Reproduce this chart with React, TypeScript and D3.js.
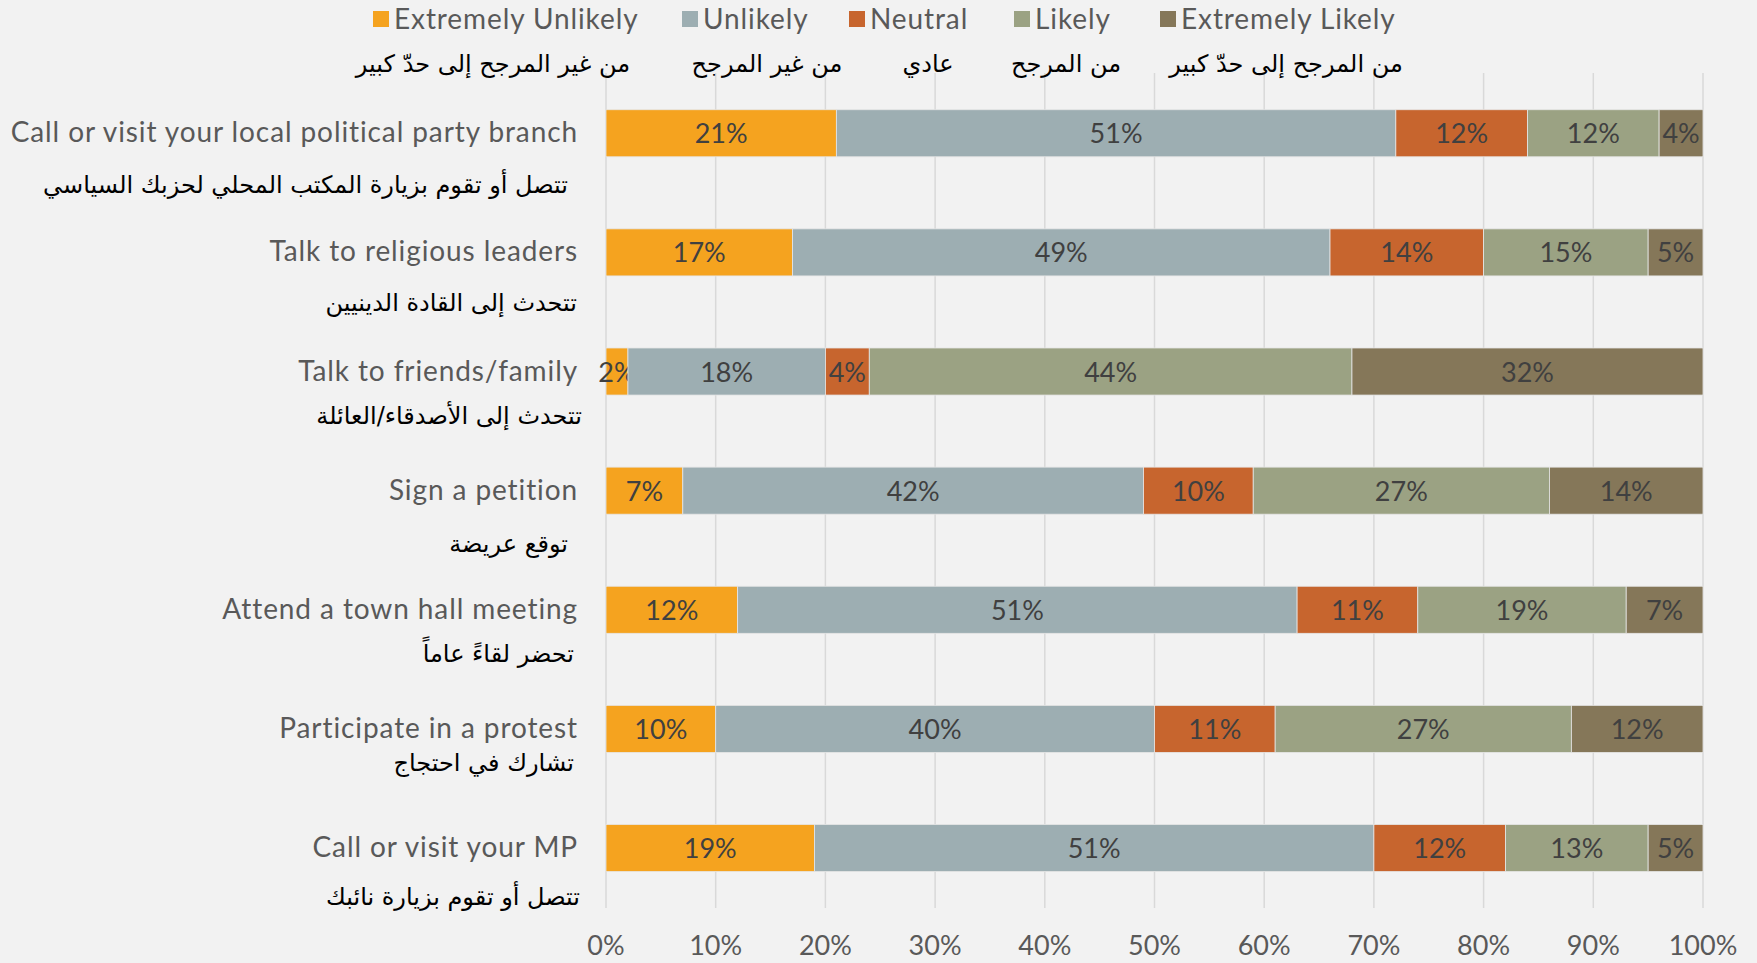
import React from 'react';
import * as d3 from 'd3';

const W = 1757;
const H = 963;

const levels = ['Extremely Unlikely', 'Unlikely', 'Neutral', 'Likely', 'Extremely Likely'];
const levelsAr = ['من غير المرجح إلى حدّ كبير', 'من غير المرجح', 'عادي', 'من المرجح', 'من المرجح إلى حدّ كبير'];
const colors = ['#F5A31F', '#9DAEB2', '#C7652E', '#9BA283', '#857759'];

const actions = [
  'Call or visit your local political party branch',
  'Talk to religious leaders',
  'Talk to friends/family',
  'Sign a petition',
  'Attend a town hall meeting',
  'Participate in a protest',
  'Call or visit your MP',
];
const actionsAr = [
  'تتصل أو تقوم بزيارة المكتب المحلي لحزبك السياسي',
  'تتحدث إلى القادة الدينيين',
  'تتحدث إلى الأصدقاء/العائلة',
  'توقع عريضة',
  'تحضر لقاءً عاماً',
  'تشارك في احتجاج',
  'تتصل أو تقوم بزيارة نائبك',
];

const extremelyUnlikely = [21, 17, 2, 7, 12, 10, 19];
const unlikely = [51, 49, 18, 42, 51, 40, 51];
const neutral = [12, 14, 4, 10, 11, 11, 12];
const likely = [12, 15, 44, 27, 19, 27, 13];
const extremelyLikely = [4, 5, 32, 14, 7, 12, 5];

const ticks = [0, 10, 20, 30, 40, 50, 60, 70, 80, 90, 100];

// arabic line: offset below each bar centre, and right edge
const arOffset = [51, 50, 43, 52, 43, 33, 48];
const arRight = [568, 577, 582, 568, 574, 574, 580];

const series = [extremelyUnlikely, unlikely, neutral, likely, extremelyLikely];

const latin = 'Lato, "Open Sans", sans-serif';
const arabic = '"DejaVu Sans", "Noto Sans", sans-serif';

export default function App() {
  const x = d3.scaleLinear().domain([0, 100]).range([606, 1703]);
  const y = d3.scaleBand<string>().domain(actions).range([73.7, 907.6]).paddingInner(0.605).paddingOuter(0.3025);

  const rows = actions.map((a, i) => {
    const vals = series.map((s) => s[i]);
    const ends = d3.cumsum(vals);
    return vals.map((v, k) => ({ a, k, v, x0: ends[k] - v, x1: ends[k] }));
  });

  const legendX = [373, 682, 849, 1014, 1160];
  const legendArX = [493, 767, 928, 1066, 1286];

  return (
    <svg width={W} height={H} style={{ position: 'absolute', left: 0, top: 0 }}>
      <rect width={W} height={H} fill="#F2F2F2" />
      {ticks.map((t) => (
        <g key={t}>
          <line x1={x(t)} x2={x(t)} y1={73} y2={908} stroke="#D9D9D9" strokeWidth={1.5} />
          <text x={x(t)} y={955} textAnchor="middle" fontFamily={latin} fontSize={27} fill="#595959">
            {t}%
          </text>
        </g>
      ))}
      {rows.map((segs, i) => {
        const yy = y(actions[i])!;
        const bh = y.bandwidth();
        const cy = yy + bh / 2;
        return (
          <g key={i}>
            {segs.map((s) => (
              <g key={s.k}>
                <rect x={x(s.x0)} y={yy} width={x(s.x1) - x(s.x0)} height={bh} fill={colors[s.k]} stroke="#E6E6E6" strokeWidth={0.8} />
                <text x={(x(s.x0) + x(s.x1)) / 2} y={cy + 10} textAnchor="middle" fontFamily={latin} fontSize={27} fill="#404040">
                  {s.v}%
                </text>
              </g>
            ))}
            <text x={578} y={cy + 9} textAnchor="end" fontFamily={latin} fontSize={28} letterSpacing={0.9} fill="#595959">
              {actions[i]}
            </text>
            <text x={arRight[i]} y={cy + arOffset[i] + 9} textAnchor="end" fontFamily={arabic} fontSize={24} fill="#000">
              {actionsAr[i]}
            </text>
          </g>
        );
      })}
      {levels.map((l, k) => (
        <g key={l}>
          <rect x={legendX[k]} y={11} width={16} height={16} fill={colors[k]} />
          <text x={legendX[k] + 21} y={29} fontFamily={latin} fontSize={28} letterSpacing={0.9} fill="#595959">
            {l}
          </text>
          <text x={legendArX[k]} y={72} textAnchor="middle" fontFamily={arabic} fontSize={24} fill="#000">
            {levelsAr[k]}
          </text>
        </g>
      ))}
    </svg>
  );
}
